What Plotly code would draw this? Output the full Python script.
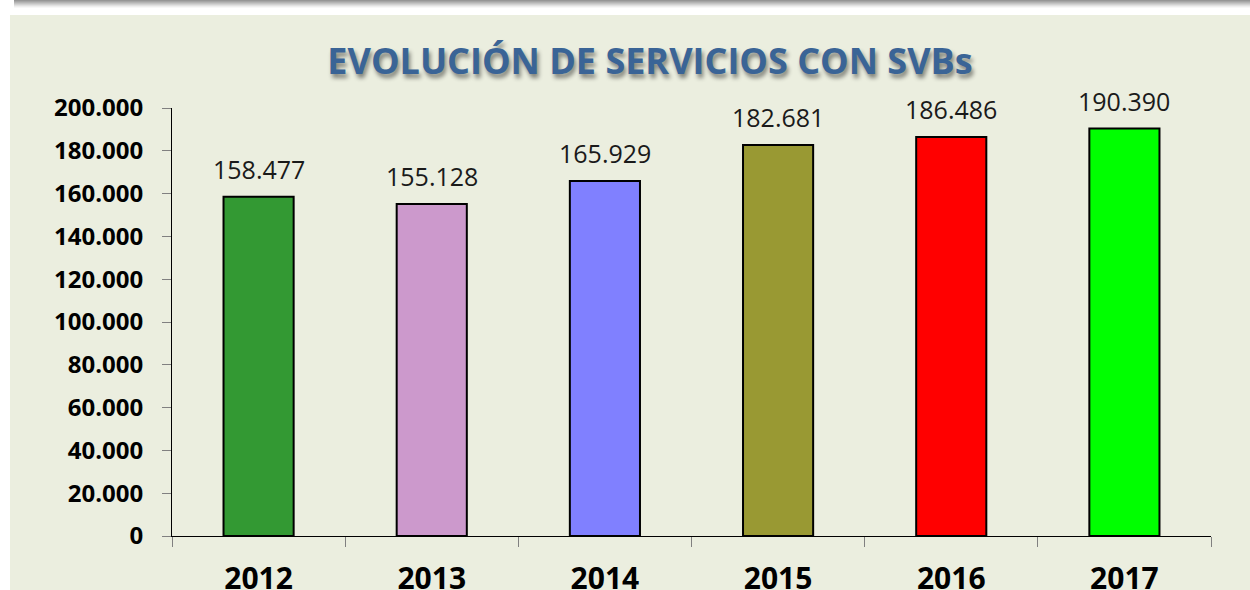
import plotly.graph_objects as go

# Services per year
years = ["2012", "2013", "2014", "2015", "2016", "2017"]
services = [158477, 155128, 165929, 182681, 186486, 190390]
bar_colors = ["#339933", "#CC99CC", "#8080FF", "#999933", "#FF0000", "#00FF00"]
y_ticks = list(range(0, 200001, 20000))

W, H = 1250, 590
L, R, T, B = 172, 39, 108, 54
PW, PH = W - L - R, H - T - B


def px_x(x):
    return (x - L) / PW


def px_y(y):
    return (H - B - y) / PH


def fmt(v):
    return f"{v:,}".replace(",", ".")


fig = go.Figure()
fig.add_trace(go.Bar(
    x=years,
    y=services,
    width=0.405,
    marker=dict(color=bar_colors, line=dict(color="black", width=2)),
    hoverinfo="skip",
))

# value labels above each bar (category index as position)
for i, v in enumerate(services):
    fig.add_annotation(
        x=i, y=v, xref="x", yref="y",
        text=fmt(v), showarrow=False,
        yanchor="bottom", yshift=9,
        font=dict(family="Open Sans", size=25, color="#1a1a1a"),
    )

shapes = []
# panel background
shapes.append(dict(
    type="rect", xref="paper", yref="paper", layer="below",
    x0=px_x(10), x1=px_x(W + 5), y0=px_y(H + 5), y1=px_y(15),
    fillcolor="#EBEEDF", line=dict(width=0),
))
# soft shadow strip along the top edge
greys = [150, 165, 180, 195, 210, 225, 238, 248]
for i, g in enumerate(greys):
    shapes.append(dict(
        type="rect", xref="paper", yref="paper", layer="below",
        x0=px_x(14), x1=px_x(W + 5), y0=px_y(i + 1), y1=px_y(i),
        fillcolor=f"rgb({g},{g},{g})", line=dict(width=0),
    ))

fig.update_layout(
    width=W, height=H,
    margin=dict(l=L, r=R, t=T, b=B, autoexpand=False),
    paper_bgcolor="white",
    plot_bgcolor="rgba(0,0,0,0)",
    separators=",.",
    showlegend=False,
    shapes=shapes,
    title=dict(
        text="EVOLUCIÓN DE SERVICIOS CON SVBs",
        xref="container", yref="container",
        x=650 / W, y=1 - 61 / H, xanchor="center", yanchor="middle",
        font=dict(family="Open Sans", size=36, color="#3A6496", weight="bold",
                  shadow="2px 4px 4px rgba(0,0,0,0.45)"),
    ),
    xaxis=dict(
        type="category",
        range=[-0.5, len(years) - 0.5],
        showline=True, linecolor="black", linewidth=1,
        ticks="outside", tickson="boundaries", ticklen=10, tickcolor="#808080",
        tickangle=0, ticklabelstandoff=16,
        tickfont=dict(family="Open Sans", size=30, color="black", weight="bold"),
        showgrid=False, zeroline=False,
    ),
    yaxis=dict(
        range=[0, 200000],
        tickvals=y_ticks, tickformat=",d",
        showline=True, linecolor="black", linewidth=1,
        ticks="outside", ticklen=9, tickcolor="#808080",
        ticklabelstandoff=14,
        tickfont=dict(family="Open Sans", size=24, color="black", weight="bold"),
        showgrid=False, zeroline=False,
    ),
)

fig.write_html("out.html")
